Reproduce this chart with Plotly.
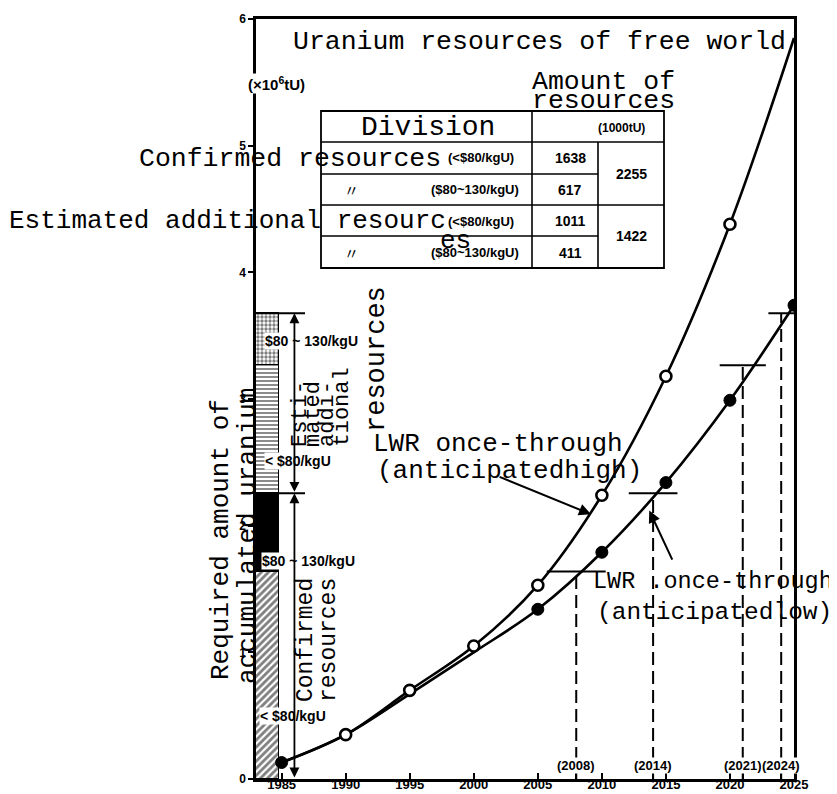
import plotly.graph_objects as go

# ---------------- data ----------------
years = [1985, 1990, 1995, 2000, 2005, 2010, 2015, 2020, 2025]
high_demand = [0.13, 0.35, 0.70, 1.05, 1.53, 2.24, 3.18, 4.38, 5.85]   # LWR once-through (anticipated high)
low_demand = [0.13, 0.35, 0.67, 1.00, 1.34, 1.79, 2.34, 2.99, 3.74]    # LWR once-through (anticipated low)
high_marker_idx = [1, 2, 3, 4, 5, 6, 7]
low_marker_idx = [0, 4, 5, 6, 7, 8]

cost_classes = ["(<$80/kgU)", "($80~130/kgU)"]
confirmed = [1638, 617]        # 1000 tU
estimated = [1011, 411]        # 1000 tU
totals = [2255, 1422]

depletion_years = [2008, 2014, 2021, 2024]
x_ticks = [1985, 1990, 1995, 2000, 2005, 2010, 2015, 2020, 2025]
y_ticks = [0, 1, 2, 3, 4, 5, 6]

# cumulative resource levels (10^6 tU)
segments = [confirmed[0], confirmed[1], estimated[0], estimated[1]]
levels = []
acc = 0
for s in segments:
    acc += s
    levels.append(acc / 1000.0)

# ---------------- geometry helpers ----------------
L, R, T, B = 248, 786, 11, 771
W, H = 837, 794


def px(x):
    return (x - L) / (R - L)


def py(y):
    return (B - y) / (B - T)


MONO = "Liberation Mono, Courier New, monospace"
NARROW = "Liberation Sans Narrow, Arial Narrow, Liberation Sans, Arial, sans-serif"


def txt(text, x, y, size=26, family=MONO, xanchor="left", yanchor="middle",
        angle=0, bg="rgba(0,0,0,0)", weight="normal"):
    return dict(text=text, x=px(x), y=py(y), xref="paper", yref="paper",
                showarrow=False, xanchor=xanchor, yanchor=yanchor, textangle=angle,
                font=dict(family=family, size=size, color="black", weight=weight),
                bgcolor=bg, borderpad=0)


fig = go.Figure()

# ---------------- resource bar ----------------
patterns = [
    dict(shape="/", fgcolor="black", bgcolor="white", size=5, solidity=0.55),
    None,
    dict(shape="-", fgcolor="black", bgcolor="white", size=4, solidity=0.45),
    dict(shape=".", fgcolor="black", bgcolor="white", size=4, solidity=0.55),
]
fills = ["white", "black", "white", "white"]
for seg, pat, col in zip(segments, patterns, fills):
    marker = dict(color=col, line=dict(color="black", width=1))
    if pat is not None:
        marker["pattern"] = pat
    fig.add_trace(go.Bar(x=[1983.9], y=[seg / 1000.0], width=1.8,
                         marker=marker, hoverinfo="skip"))

# ---------------- demand curves ----------------
fig.add_trace(go.Scatter(x=years, y=high_demand, mode="lines",
                         line=dict(color="black", width=2.6, shape="spline", smoothing=1.0)))
fig.add_trace(go.Scatter(x=years, y=low_demand, mode="lines",
                         line=dict(color="black", width=2.6, shape="spline", smoothing=1.0)))
fig.add_trace(go.Scatter(x=[years[i] for i in high_marker_idx],
                         y=[high_demand[i] for i in high_marker_idx], mode="markers",
                         marker=dict(symbol="circle", size=11, color="white",
                                     line=dict(color="black", width=2.6))))
fig.add_trace(go.Scatter(x=[years[i] for i in low_marker_idx],
                         y=[low_demand[i] for i in low_marker_idx], mode="markers",
                         marker=dict(symbol="circle", size=12, color="black",
                                     line=dict(color="black", width=1))))

shapes = []
# depletion markers: horizontal level line + dashed vertical
half_w = [2.3, 1.9, 1.8, 1.0]
for yr, lv, hw in zip(depletion_years, levels, half_w):
    shapes.append(dict(type="line", xref="x", yref="y", x0=yr - hw, x1=min(yr + hw, 2025),
                       y0=lv, y1=lv, line=dict(color="black", width=2)))
    shapes.append(dict(type="line", xref="x", yref="y", x0=yr, x1=yr, y0=0, y1=lv,
                       line=dict(color="black", width=2, dash="13px,6px")))

# bracket horizontals
for lv in (levels[1], levels[3]):
    shapes.append(dict(type="line", xref="paper", yref="y", x0=px(248), x1=px(297),
                       y0=lv, y1=lv, line=dict(color="black", width=2)))

# table
tl, tr, tt, tb = 313, 656, 103, 260
c1, c2 = 524, 590
r1, r2, r3, r4 = 134, 166, 197, 228


def seg_line(x0, y0, x1, y1, w=1.6):
    return dict(type="line", xref="paper", yref="paper", x0=px(x0), x1=px(x1),
                y0=py(y0), y1=py(y1), line=dict(color="black", width=w))


shapes.append(dict(type="rect", xref="paper", yref="paper", x0=px(tl), x1=px(tr),
                   y0=py(tb), y1=py(tt), line=dict(color="black", width=1.8),
                   fillcolor="rgba(0,0,0,0)"))
shapes += [seg_line(tl, r1, tr, r1), seg_line(tl, r2, c2, r2), seg_line(tl, r3, tr, r3),
           seg_line(tl, r4, c2, r4), seg_line(c1, tt, c1, tb), seg_line(c2, r1, c2, tb)]

annotations = []
# title & table texts
annotations.append(txt("Uranium resources of free world", 284, 34, size=26.5))
annotations.append(txt("(×10<sup>6</sup>tU)", 268, 75, size=15, family=NARROW,
                       xanchor="center", bg="white", weight="bold"))
annotations.append(txt("Amount of", 523, 74, size=26.5))
annotations.append(txt("resources", 523, 93, size=26.5))
annotations.append(txt("Division", 420, 119, size=28, xanchor="center"))
annotations.append(txt("(1000tU)", 613, 120, size=12, family=NARROW, xanchor="center", weight="bold"))
annotations.append(txt("Confirmed resources", 130, 151, size=26.5))
annotations.append(txt("Estimated additional resourc", 0, 213, size=26))
annotations.append(txt("es", 447, 233, size=26, xanchor="center"))

row_y = [150, 182, 213, 245]
row_vals = [confirmed[0], confirmed[1], estimated[0], estimated[1]]
row_cls = [cost_classes[0], cost_classes[1], cost_classes[0], cost_classes[1]]
for i, (yy, v, c) in enumerate(zip(row_y, row_vals, row_cls)):
    if i % 2 == 0:
        annotations.append(txt(c, 473, yy, size=13, family=NARROW, xanchor="center", weight="bold"))
    else:
        annotations.append(txt("〃", 343, yy, size=15, family="Noto Sans CJK JP", xanchor="center"))
        annotations.append(txt(c, 467, yy, size=13, family=NARROW, xanchor="center", weight="bold"))
    annotations.append(txt(str(v), 562, yy, size=14, family=NARROW, xanchor="center", weight="bold"))
for yy, v in zip([166, 228], totals):
    annotations.append(txt(str(v), 623, yy, size=14, family=NARROW, xanchor="center", weight="bold"))

# bar segment labels
annotations.append(txt("< $80/kgU", 251, 708, size=14, family=NARROW, bg="white", weight="bold"))
annotations.append(txt("$80 ~ 130/kgU", 253, 553, size=14, family=NARROW, bg="white", weight="bold"))
annotations.append(txt("< $80/kgU", 256, 453, size=14, family=NARROW, bg="white", weight="bold"))
annotations.append(txt("$80 ~ 130/kgU", 256, 333, size=14, family=NARROW, bg="white", weight="bold"))

# bracket arrows
for y0, y1 in ((0, levels[1]), (levels[1], levels[3])):
    annotations.append(dict(x=1986, y=y1, ax=1986, ay=y0, xref="x", yref="y", axref="x", ayref="y",
                            text="", showarrow=True, arrowhead=2, arrowside="end+start",
                            arrowsize=1.1, arrowwidth=1.8, arrowcolor="black", standoff=0,
                            startstandoff=0))

# rotated texts
annotations.append(txt("Required amount of", 213, 532, size=26, xanchor="center", angle=-90))
annotations.append(txt("accumulated uranium", 240, 528, size=26, xanchor="center", angle=-90))
annotations.append(txt("Confirmed", 298, 695, size=23, xanchor="center", yanchor="bottom", angle=-90))
annotations.append(txt("resources", 321, 695, size=23, xanchor="center", yanchor="bottom", angle=-90))
for word, xx in (("Esti-", 293), ("mated", 306), ("addi-", 320), ("tional", 334)):
    annotations.append(txt(word, xx, 440, size=22, xanchor="center", yanchor="bottom", angle=-90))
annotations.append(txt("resources", 369, 425, size=27, xanchor="center", yanchor="bottom", angle=-90))

# curve labels
annotations.append(txt("LWR once-through", 364, 436, size=26))
annotations.append(txt("(anticipatedhigh)", 368, 463, size=26))
annotations.append(txt("LWR .once-through", 584, 573, size=23.5))
annotations.append(txt("(anticipatedlow)", 588, 604, size=24.5))
annotations.append(dict(x=2009.15, y=2.09, ax=2001.9, ay=2.39, xref="x", yref="y", axref="x", ayref="y",
                        text="", showarrow=True, arrowhead=2, arrowsize=1.2, arrowwidth=2,
                        arrowcolor="black", standoff=0))
annotations.append(dict(x=2013.7, y=2.12, ax=2015.55, ay=1.72, xref="x", yref="y", axref="x", ayref="y",
                        text="", showarrow=True, arrowhead=2, arrowsize=1.2, arrowwidth=2,
                        arrowcolor="black", standoff=0))

# depletion year labels
for yr in depletion_years:
    annotations.append(dict(text="(%d)" % yr, x=yr, y=py(757), xref="x", yref="paper",
                            showarrow=False, xanchor="center", yanchor="middle",
                            font=dict(family=NARROW, size=13, color="black", weight="bold"),
                            bgcolor="white", borderpad=0))

tickvals = x_ticks + depletion_years
ticktext = [str(v) for v in x_ticks] + [""] * len(depletion_years)

fig.update_layout(
    width=W, height=H, margin=dict(l=L, r=W - R, t=T, b=H - B, autoexpand=False),
    paper_bgcolor="white", plot_bgcolor="white", showlegend=False,
    barmode="stack", bargap=0,
    shapes=shapes, annotations=annotations,
    xaxis=dict(range=[1983, 2025], showline=True, linewidth=2.5, linecolor="black", mirror=True,
               ticks="inside", ticklen=6, tickwidth=2, tickcolor="black", automargin=False,
               tickvals=tickvals, ticktext=ticktext, showgrid=False, zeroline=False,
               ticklabelstandoff=-8,
               tickfont=dict(family=NARROW, size=13, color="black", weight="bold")),
    yaxis=dict(range=[0, 6], showline=True, linewidth=2.5, linecolor="black", mirror=True,
               ticks="outside", ticklen=5, tickwidth=2, tickcolor="black", automargin=False,
               tickvals=y_ticks, showgrid=False, zeroline=False,
               tickfont=dict(family=NARROW, size=12, color="black", weight="bold")),
)

fig.write_html("out.html")
